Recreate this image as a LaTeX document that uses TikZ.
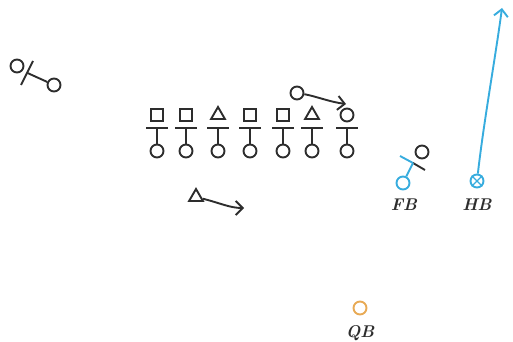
\documentclass[tikz,border=0pt]{standalone}
\usetikzlibrary{shapes.geometric,arrows.meta}
\definecolor{ink}{RGB}{45,45,45}
\definecolor{routeblue}{RGB}{55,172,222}
\definecolor{qborange}{RGB}{232,170,85}
\begin{document}
\begin{tikzpicture}[x=1pt, y=-1pt, line width=1.9pt, color=ink,
    >={Straight Barb[length=7pt,width=14pt]},
    man/.style={draw, circle, minimum size=13pt, inner sep=0pt},
    box/.style={draw, rectangle, minimum size=12.5pt, inner sep=0pt},
    tri/.style={draw, regular polygon, regular polygon sides=3, minimum size=16pt, inner sep=0pt},
    lbl/.style={font=\fontsize{17}{19}\selectfont\bfseries\itshape}]
\useasboundingbox (0,0) rectangle (513,342);

% line of scrimmage
\foreach \x/\s [count=\i] in {157/box,186/box,218/tri,250/box,283/box,312/tri,347/man} {
  \node[\s] (d\i) at (\x,115) {};
  \coordinate (t\i) at (\x,128);
  \node[man] (o\i) at (\x,151) {};
  \draw ([xshift=-11pt]t\i) -- ([xshift=11pt]t\i);
  \draw (t\i) -- (o\i);
}

% split end, top left
\node[man] (sa) at (17,66) {};
\node[man] (sb) at (54,85) {};
\coordinate (sbarA) at (21,85);
\coordinate (sbarB) at (33,61);
\coordinate (sbar) at (27.5,73);
\draw (sbarA) -- (sbarB);
\draw (sbar) -- (sb);

% motion man
\node[man] (m) at (297,93) {};
\coordinate (mEnd) at (346,104);
\draw[->] (m) .. controls (315,96) and (330,102) .. (mEnd);

% linebacker
\node[tri] (lb) at (196,197) {};
\coordinate (lbEnd) at (244,208);
\draw[->] (lb) .. controls (220,203) and (230,208) .. (lbEnd);

% fullback
\node[man, draw=routeblue] (fb) at (403,183) {};
\node[man] (fbd) at (422,152) {};
\coordinate (fbbarA) at (400,156);
\coordinate (fbbar) at (413,163);
\coordinate (fbbarB) at (425,170);
\draw[routeblue] (fbbarA) -- (fbbar);
\draw (fbbar) -- (fbbarB);
\draw[routeblue] (fbbar) -- (fb);
\node[lbl] (fbl) at (404,205) {FB};

% halfback
\node[man, draw=routeblue] (hb) at (477,181) {};
\draw[routeblue, line width=1.3pt] (hb.north east) -- (hb.south west) (hb.north west) -- (hb.south east);
\coordinate (hbEnd) at (502,8);
\draw[routeblue, ->] (hb) .. controls (484,120) and (495,60) .. (hbEnd);
\node[lbl] (hbl) at (477,205) {HB};

% quarterback
\node[man, draw=qborange] (qb) at (360,308) {};
\node[lbl] (qbl) at (360,333) {QB};
\end{tikzpicture}
\end{document}
